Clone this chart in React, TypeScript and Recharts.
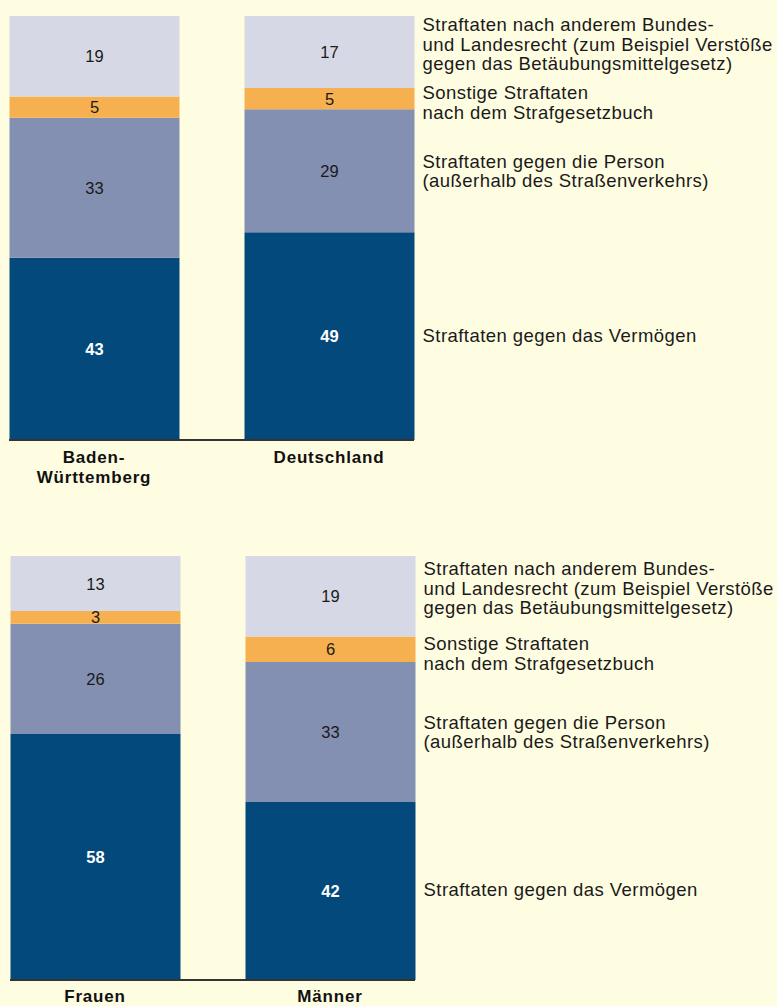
import React from "react";
import { BarChart, Bar, XAxis, YAxis, LabelList } from "recharts";

// categories (tick labels split into lines)
const topCategories = ["Baden-Württemberg", "Deutschland"];
const topTickLines = [["Baden-", "Württemberg"], ["Deutschland"]];
const bottomCategories = ["Frauen", "Männer"];
const bottomTickLines = [["Frauen"], ["Männer"]];

// series values, in %, bottom to top
const topVermoegen = [43, 49];
const topPerson = [33, 29];
const topSonstige = [5, 5];
const topAndere = [19, 17];

const bottomVermoegen = [58, 42];
const bottomPerson = [26, 33];
const bottomSonstige = [3, 6];
const bottomAndere = [13, 19];

const seriesKeys = ["vermoegen", "person", "sonstige", "andere"];
const seriesNames = [
  ["Straftaten gegen das Vermögen"],
  ["Straftaten gegen die Person", "(außerhalb des Straßenverkehrs)"],
  ["Sonstige Straftaten", "nach dem Strafgesetzbuch"],
  ["Straftaten nach anderem Bundes-", "und Landesrecht (zum Beispiel Verstöße", "gegen das Betäubungsmittelgesetz)"],
];

const colors: Record<string, string> = {
  vermoegen: "#03497c",
  person: "#8390b2",
  sonstige: "#f7b04f",
  andere: "#d6d8e6",
};

// small vertical nudges of the side labels so they don't collide
const sideNudge: Record<string, number> = { vermoegen: -1, person: 0, sonstige: 4, andere: -8 };

const FONT = "'Liberation Sans', Arial, Helvetica, sans-serif";
const BG = "#fffde1";

const buildRows = (cats: string[], v: number[], p: number[], s: number[], a: number[]) =>
  cats.map((name, i) => ({ name, vermoegen: v[i], person: p[i], sonstige: s[i], andere: a[i] }));

const topData = buildRows(topCategories, topVermoegen, topPerson, topSonstige, topAndere);
const bottomData = buildRows(bottomCategories, bottomVermoegen, bottomPerson, bottomSonstige, bottomAndere);

const ValueLabel = (key: string) => (props: any) => {
  const { x, y, width, height, value } = props;
  const dark = key === "vermoegen";
  return (
    <text
      x={x + width / 2}
      y={y + height / 2}
      textAnchor="middle"
      dominantBaseline="central"
      fontFamily={FONT}
      fontSize={16.5}
      fontWeight={dark ? "bold" : "normal"}
      fill={dark ? "#ffffff" : "#1a1a1a"}
    >
      {value}
    </text>
  );
};

const SideLabel = (key: string, idx: number, lastIndex: number) => (props: any) => {
  const { x, y, width, height, index } = props;
  if (index !== lastIndex) return null;
  const lines = seriesNames[idx];
  const lh = 19.5;
  const cy = y + height / 2 + sideNudge[key];
  const start = cy - ((lines.length - 1) * lh) / 2;
  return (
    <text fontFamily={FONT} fontSize={18.5} letterSpacing={0.45} fill="#1a1a1a">
      {lines.map((l, i) => (
        <tspan key={i} x={x + width + 8} y={start + i * lh} dominantBaseline="central">
          {l}
        </tspan>
      ))}
    </text>
  );
};

const makeTick = (lines: string[][], cats: string[], first: number) => (props: any) => {
  const { x, y, payload } = props;
  const ls = lines[cats.indexOf(payload.value)] || [payload.value];
  return (
    <text fontFamily={FONT} fontSize={17} letterSpacing={0.8} fontWeight="bold" fill="#111" textAnchor="middle">
      {ls.map((l, i) => (
        <tspan key={i} x={x} y={y + first + i * 19.5} dominantBaseline="central">
          {l}
        </tspan>
      ))}
    </text>
  );
};

function StackChart({ data, cats, tickLines, height, left, bottomMargin, axisHeight, tickOffset }: any) {
  return (
    <BarChart
      width={777}
      height={height}
      data={data}
      margin={{ top: 16, right: 777 - left - 405, left, bottom: bottomMargin }}
      barSize={170}
    >
      <XAxis
        dataKey="name"
        padding={{ left: -32.5, right: -32.5 }}
        tickLine={false}
        tickSize={0}
        tickMargin={0}
        axisLine={{ stroke: "#333", strokeWidth: 2 }}
        height={axisHeight}
        interval={0}
        tick={makeTick(tickLines, cats, tickOffset)}
      />
      <YAxis hide domain={[0, 100]} />
      {seriesKeys.map((k, i) => (
        <Bar key={k} dataKey={k} stackId="a" fill={colors[k]} isAnimationActive={false}>
          <LabelList dataKey={k} content={ValueLabel(k)} />
          <LabelList dataKey={k} content={SideLabel(k, i, data.length - 1)} />
        </Bar>
      ))}
    </BarChart>
  );
}

export default function App() {
  return (
    <div style={{ width: 777, height: 1006, background: BG, position: "relative", overflow: "hidden" }}>
      <style>{"body{margin:0}"}</style>
      <div style={{ position: "absolute", left: 0, top: 0 }}>
        <StackChart
          data={topData}
          cats={topCategories}
          tickLines={topTickLines}
          height={500}
          left={9}
          bottomMargin={10}
          axisHeight={50}
          tickOffset={17.5}
        />
      </div>
      <div style={{ position: "absolute", left: 0, top: 540 }}>
        <StackChart
          data={bottomData}
          cats={bottomCategories}
          tickLines={bottomTickLines}
          height={466}
          left={10}
          bottomMargin={0}
          axisHeight={26}
          tickOffset={16.5}
        />
      </div>
    </div>
  );
}
